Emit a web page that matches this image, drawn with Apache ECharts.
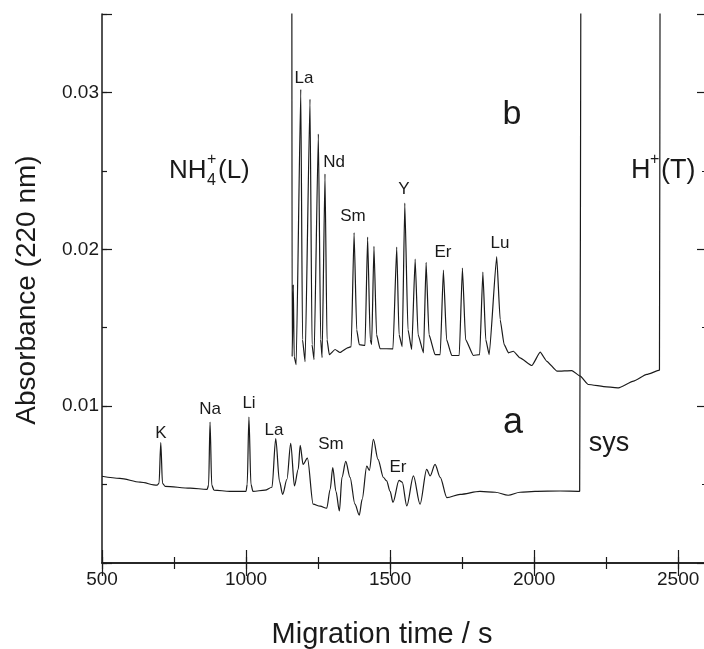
<!DOCTYPE html>
<html>
<head>
<meta charset="utf-8">
<script src="https://cdn.jsdelivr.net/npm/echarts@6/dist/echarts.min.js"></script>
<style>
  html, body { margin: 0; padding: 0; background: #fff; }
  #chart { width: 704px; height: 649px; }
</style>
</head>
<body>
<div id="chart"></div>
<script>
// migration time (s), absorbance at 220 nm
const traceA = [
  [500, 0.00553], [562, 0.00540], [632, 0.00515], [691, 0.00496], [698, 0.00508],
  [704, 0.00767], [710, 0.00508], [719, 0.00489], [806, 0.00477], [865, 0.00470],
  [870, 0.00496], [875, 0.00898], [881, 0.00496], [889, 0.00464], [944, 0.00457],
  [1000, 0.00457], [1004, 0.00502], [1010, 0.00930], [1017, 0.00502], [1024, 0.00457],
  [1066, 0.00464], [1090, 0.00483], [1103, 0.00793], [1116, 0.00521], [1127, 0.00438],
  [1142, 0.00534], [1155, 0.00763], [1168, 0.00491], [1181, 0.00597], [1188, 0.00750],
  [1198, 0.00629], [1213, 0.00669], [1233, 0.00375], [1257, 0.00362], [1280, 0.00349],
  [1292, 0.00470], [1301, 0.00608], [1312, 0.00457], [1324, 0.00332], [1333, 0.00546],
  [1346, 0.00648], [1361, 0.00546], [1378, 0.00375], [1393, 0.00305], [1403, 0.00406],
  [1419, 0.00618], [1428, 0.00591], [1442, 0.00788], [1458, 0.00661], [1477, 0.00545],
  [1488, 0.00523], [1500, 0.00457], [1510, 0.00387], [1531, 0.00527], [1542, 0.00515],
  [1558, 0.00364], [1581, 0.00555], [1604, 0.00375], [1627, 0.00597], [1639, 0.00555],
  [1656, 0.00629], [1674, 0.00546], [1697, 0.00417], [1743, 0.00438], [1812, 0.00457],
  [1865, 0.00451], [1910, 0.00432], [1951, 0.00451], [2003, 0.00457], [2090, 0.00459],
  [2158, 0.00457], [2162, 0.036]
];

const traceB = [
  [1159, 0.036], [1160, 0.01316], [1164, 0.01774], [1167, 0.01316], [1174, 0.01265],
  [1190, 0.03019], [1196, 0.01424], [1205, 0.01284], [1222, 0.02957], [1229, 0.01393],
  [1236, 0.01297], [1251, 0.02735], [1259, 0.01424], [1264, 0.01310], [1274, 0.02480],
  [1281, 0.01424], [1289, 0.01328], [1309, 0.01361], [1326, 0.01342], [1354, 0.01373],
  [1365, 0.01380], [1375, 0.02107], [1384, 0.01488], [1393, 0.01392], [1413, 0.01387],
  [1422, 0.02078], [1431, 0.01424], [1436, 0.01392], [1444, 0.02018], [1453, 0.01456],
  [1465, 0.01367], [1510, 0.01365], [1523, 0.02014], [1531, 0.01456], [1542, 0.01380],
  [1551, 0.02294], [1562, 0.01488], [1575, 0.01361], [1587, 0.01938], [1597, 0.01456],
  [1616, 0.01340], [1625, 0.01916], [1635, 0.01456], [1656, 0.01329], [1674, 0.01329],
  [1685, 0.01868], [1696, 0.01424], [1714, 0.01323], [1740, 0.01323], [1751, 0.01880],
  [1762, 0.01424], [1789, 0.01323], [1811, 0.01329], [1822, 0.01854], [1832, 0.01424],
  [1844, 0.01329], [1870, 0.01954], [1882, 0.01552], [1896, 0.01392], [1911, 0.01340],
  [1928, 0.01350], [1951, 0.01308], [1992, 0.01259], [2021, 0.01344], [2044, 0.01286],
  [2079, 0.01223], [2131, 0.01227], [2160, 0.01191], [2188, 0.01138], [2252, 0.01123],
  [2293, 0.01117], [2345, 0.01159], [2391, 0.01202], [2435, 0.01229], [2437, 0.036]
];

const xLabels = [500, 1000, 1500, 2000, 2500];
const yLabels = [0.01, 0.02, 0.03];

const ink = '#1a1a1a';
const sans = '"Liberation Sans", Arial, sans-serif';

function axisX (pos, interval, len, labels) {
  return {
    type: 'value', position: pos, min: 500, max: 2600, interval: interval,
    axisLine: { show: labels, lineStyle: { color: ink, width: 1.5 } },
    axisTick: { inside: true, length: len, lineStyle: { color: ink, width: 1.2 } },
    axisLabel: {
      show: labels && pos === 'bottom', margin: 7, color: ink,
      fontFamily: sans, fontSize: 19,
      formatter: v => xLabels.indexOf(v) >= 0 ? String(v) : ''
    },
    splitLine: { show: false }
  }
}

function axisY (pos, interval, len, labels) {
  return {
    type: 'value', position: pos, min: 0, max: 0.035, interval: interval,
    axisLine: { show: labels, lineStyle: { color: ink, width: 1.5 } },
    axisTick: { inside: true, length: len, lineStyle: { color: ink, width: 1.2 } },
    axisLabel: {
      show: labels && pos === 'left', margin: 3, color: ink,
      fontFamily: sans, fontSize: 19,
      formatter: v => yLabels.some(k => Math.abs(v - k) < 1e-9) ? v.toFixed(2) : ''
    },
    splitLine: { show: false }
  }
}

function txt (s, x, y, size, align) {
  return {
    type: 'text', x: x, y: y, silent: true,
    style: {
      text: s, fill: ink, font: size + 'px ' + sans,
      textAlign: align || 'center', align: align || 'center',
      textVerticalAlign: 'middle', verticalAlign: 'middle'
    }
  }
}

const yTitle = txt('Absorbance (220 nm)', 27, 290, 28)
yTitle.rotation = Math.PI / 2

const chart = echarts.init(document.getElementById('chart'))
chart.setOption({
  animation: false,
  backgroundColor: '#fff',
  grid: { left: 102, right: -3, top: 14, bottom: 86, outerBoundsMode: 'none', containLabel: false },
  xAxis: [
    axisX('bottom', 500, 13, true),
    axisX('bottom', 250, 6, false),
    axisX('top', 500, 13, true),
    axisX('top', 250, 6, false)
  ],
  yAxis: [
    axisY('left', 0.01, 10, true),
    axisY('left', 0.005, 5, false),
    axisY('right', 0.01, 10, true),
    axisY('right', 0.005, 5, false)
  ],
  series: [
    {
      name: 'a', type: 'line', data: traceA, showSymbol: false, clip: true,
      smooth: 0.3, smoothMonotone: 'x',
      lineStyle: { color: ink, width: 1.2 }
    },
    {
      name: 'b', type: 'line', data: traceB, showSymbol: false, clip: true,
      smooth: 0.15, smoothMonotone: 'x',
      lineStyle: { color: ink, width: 1.2 }
    }
  ],
  graphic: [
    yTitle,
    txt('Migration time / s', 382, 635, 29),
    // trace b
    txt('La', 304, 78, 17),
    txt('Nd', 334, 162, 17),
    txt('Sm', 353, 216, 17),
    txt('Y', 404, 189, 17),
    txt('Er', 443, 252, 17),
    txt('Lu', 500, 243, 17),
    txt('b', 512, 115, 34),
    // trace a
    txt('K', 161, 433, 17),
    txt('Na', 210, 409, 17),
    txt('Li', 249, 403, 17),
    txt('La', 274, 430, 17),
    txt('Sm', 331, 444, 17),
    txt('Er', 398, 467, 17),
    txt('a', 513, 423, 36),
    txt('sys', 609, 444, 27),
    // zone labels
    txt('NH', 169, 171, 26, 'left'),
    txt('4', 207, 181, 16, 'left'),
    txt('+', 207, 160, 16, 'left'),
    txt('(L)', 218, 171, 26, 'left'),
    txt('H', 631, 171, 27, 'left'),
    txt('+', 650, 160, 16, 'left'),
    txt('(T)', 661, 171, 27, 'left')
  ]
})
</script>
</body>
</html>
